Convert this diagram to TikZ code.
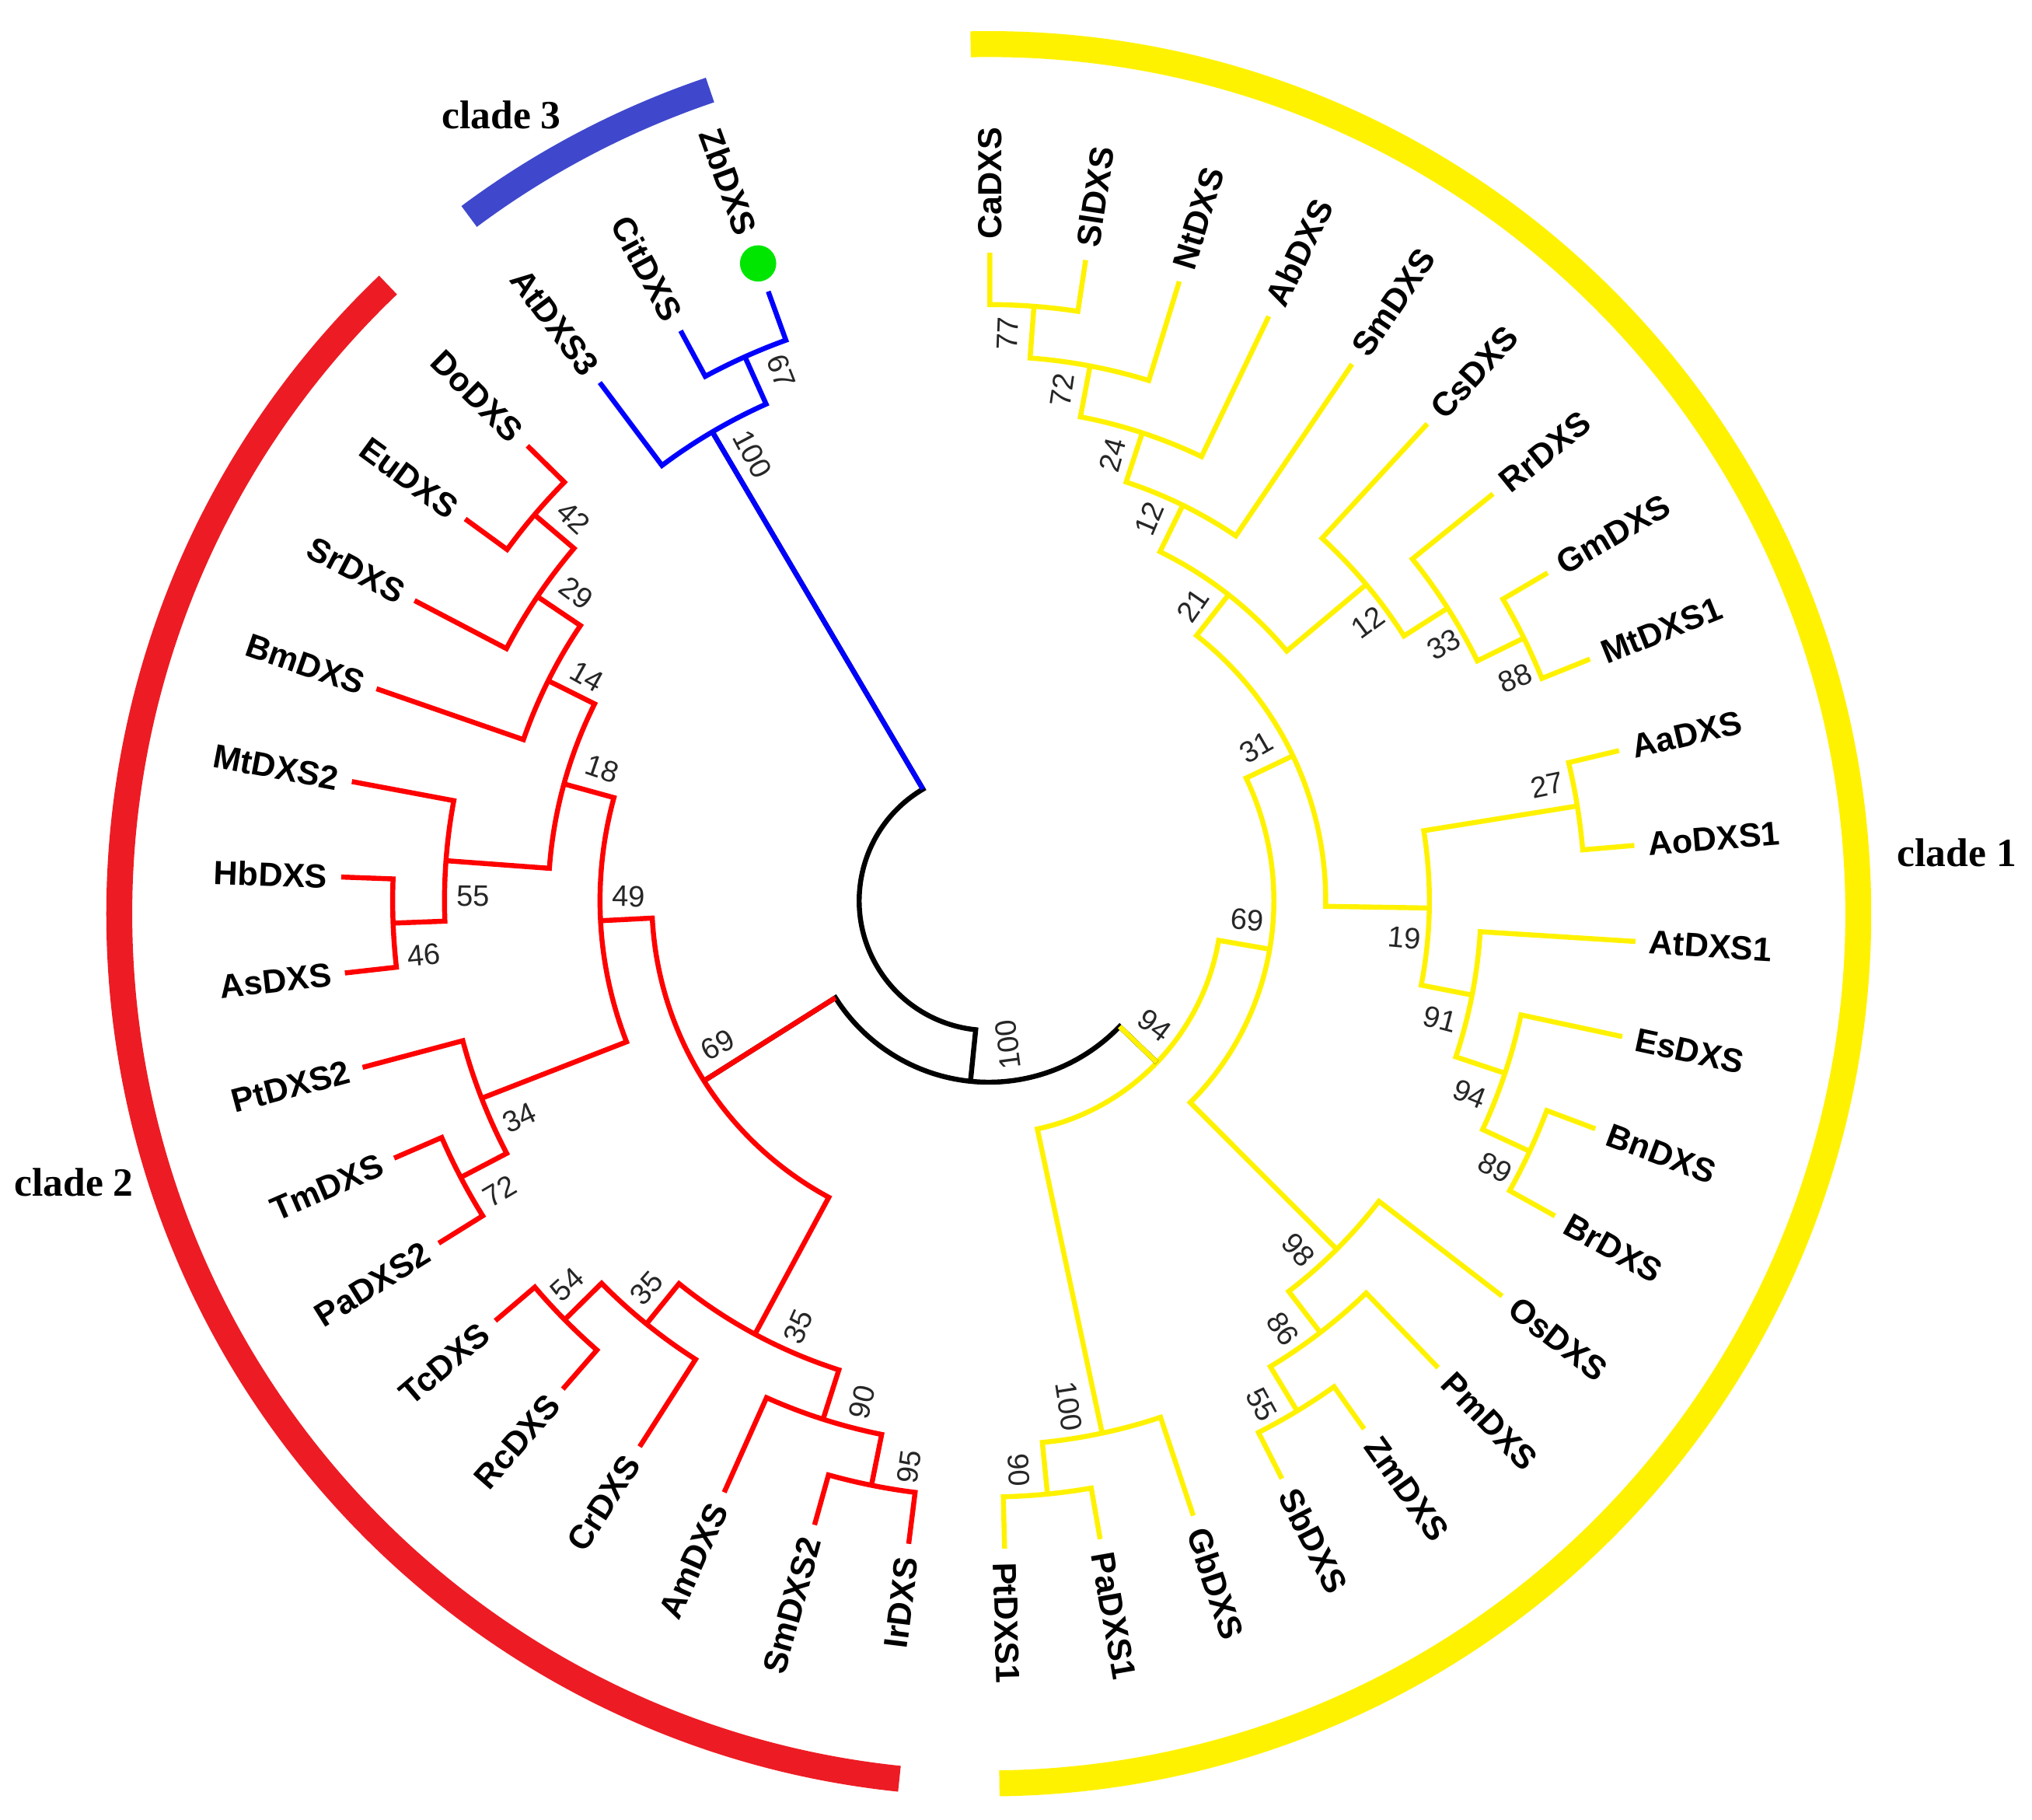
\documentclass[tikz,border=0pt]{standalone}
\usepackage{fontspec}
\newfontfamily\arialfam{Liberation Sans}
\newfontfamily\serifam{Liberation Serif}
\definecolor{cyel}{RGB}{255,242,0}
\definecolor{cred}{RGB}{255,0,0}
\definecolor{cblu}{RGB}{0,0,255}
\definecolor{redband}{RGB}{237,28,36}
\definecolor{bluband}{RGB}{63,72,204}
\definecolor{dotgreen}{RGB}{0,230,0}

\tikzset{
  br/.style={line width=1.1pt, line join=miter},
  tiplab/.style={font=\arialfam\bfseries\fontsize{7.35}{8}\selectfont, inner sep=0pt},
  bootlab/.style={font=\arialfam\fontsize{6.5}{7}\selectfont, inner sep=0pt, text=black!85},
  cladelab/.style={font=\serifam\bfseries\fontsize{8.8}{10}\selectfont, inner sep=0pt},
  band/.style={line width=2mm}
}

% join two children (by name) with an arc at radius #3
\newcommand\joinkids[5]{%
  \pgfmathsetmacro\angA{\csname ang#4\endcsname}%
  \pgfmathsetmacro\angB{\csname ang#5\endcsname}%
  \pgfmathsetmacro\angM{(\angA+\angB)/2}%
  \expandafter\xdef\csname ang#1\endcsname{\angM}%
  \draw[br,#2] (#4) -- (\angA:#3) arc[start angle=\angA, end angle=\angB, radius=#3] -- (#5);
  \coordinate (#1) at (\angM:#3);}
% stem of a child in its own colour
\newcommand\stemline[3]{%
  \pgfmathsetmacro\angA{\csname ang#2\endcsname}%
  \draw[br,#1] (#2) -- (\angA:#3);}

\begin{document}
\begin{tikzpicture}[x=0.1mm,y=0.1mm]
  \useasboundingbox (-763,-709) rectangle (805,695);
  % clade bands
  \draw[band,cyel] ([shift={(0,-10)}]91.2:671) arc[start angle=91.2, end angle=-89.3, radius=671];
  \draw[band,redband] ([shift={(0,-10)}]133.7:671) arc[start angle=133.7, end angle=264.1, radius=671];
  \draw[band,bluband] ([shift={(0,-10)}]108.7:671) arc[start angle=108.7, end angle=126.7, radius=671];
  \node[cladelab] (c1) at (747,37) {clade 1};
  \node[cladelab] (c2) at (-706,-217) {clade 2};
  \node[cladelab] (c3) at (-376,606) {clade 3};

  % tips
  \foreach \nm [count=\k from 0] in {ZbDXS,CitDXS,AtDXS3,DoDXS,EuDXS,SrDXS,BmDXS,MtDXS2,HbDXS,AsDXS,PtDXS2,TmDXS,PaDXS2,TcDXS,RcDXS,CrDXS,AmDXS,SmDXS2,IrDXS,PtDXS1,PaDXS1,GbDXS,SbDXS,ZmDXS,PmDXS,OsDXS,BrDXS,BnDXS,EsDXS,AtDXS1,AoDXS1,AaDXS,MtDXS1,GmDXS,RrDXS,CsDXS,SmDXS,AbDXS,NtDXS,SlDXS,CaDXS}{
    \pgfmathsetmacro\ang{109.9+8.5*\k}
    \expandafter\xdef\csname ang\nm\endcsname{\ang}
    \coordinate (\nm) at (\ang:500);
    \pgfmathtruncatemacro\lft{cos(\ang)<0 ? 1 : 0}
    \ifnum\k=0 \def\rr{547}\else\def\rr{510}\fi
    \ifnum\lft=1
      \node[tiplab, anchor=east, rotate=\ang-180] (lab\nm) at (\ang:\rr) {\nm};
    \else
      \node[tiplab, anchor=west, rotate=\ang] (lab\nm) at (\ang:\rr) {\nm};
    \fi
  }
  \node[circle, fill=dotgreen, minimum size=2.8mm, inner sep=0pt] (dot) at (109.9:523) {};

  % clade 3
  \joinkids{b67}{cblu}{460}{ZbDXS}{CitDXS}
  \joinkids{b100}{cblu}{420}{b67}{AtDXS3}
  % clade 2
  \joinkids{r42}{cred}{460}{DoDXS}{EuDXS}
  \joinkids{r29}{cred}{420}{r42}{SrDXS}
  \joinkids{r14}{cred}{380}{r29}{BmDXS}
  \joinkids{r46}{cred}{460}{HbDXS}{AsDXS}
  \joinkids{r55}{cred}{420}{MtDXS2}{r46}
  \joinkids{r18}{cred}{340}{r14}{r55}
  \joinkids{r72}{cred}{460}{TmDXS}{PaDXS2}
  \joinkids{r34}{cred}{420}{PtDXS2}{r72}
  \joinkids{r49}{cred}{300}{r18}{r34}
  \joinkids{r54}{cred}{460}{TcDXS}{RcDXS}
  \joinkids{r35b}{cred}{420}{r54}{CrDXS}
  \joinkids{r95}{cred}{460}{SmDXS2}{IrDXS}
  \joinkids{r90}{cred}{420}{AmDXS}{r95}
  \joinkids{r35a}{cred}{380}{r35b}{r90}
  \joinkids{r69}{cred}{260}{r49}{r35a}
  % clade 1
  \joinkids{y90}{cyel}{460}{PtDXS1}{PaDXS1}
  \joinkids{y100}{cyel}{420}{y90}{GbDXS}
  \joinkids{y55}{cyel}{460}{SbDXS}{ZmDXS}
  \joinkids{y86}{cyel}{420}{y55}{PmDXS}
  \joinkids{y98}{cyel}{380}{y86}{OsDXS}
  \joinkids{y89}{cyel}{460}{BrDXS}{BnDXS}
  \joinkids{y94b}{cyel}{420}{y89}{EsDXS}
  \joinkids{y91}{cyel}{380}{y94b}{AtDXS1}
  \joinkids{y27}{cyel}{460}{AoDXS1}{AaDXS}
  \joinkids{y19}{cyel}{340}{y91}{y27}
  \joinkids{y88}{cyel}{460}{MtDXS1}{GmDXS}
  \joinkids{y33}{cyel}{420}{y88}{RrDXS}
  \joinkids{y12b}{cyel}{380}{y33}{CsDXS}
  \joinkids{y77}{cyel}{460}{SlDXS}{CaDXS}
  \joinkids{y72}{cyel}{420}{NtDXS}{y77}
  \joinkids{y24}{cyel}{380}{AbDXS}{y72}
  \joinkids{y12a}{cyel}{340}{SmDXS}{y24}
  \joinkids{y21}{cyel}{300}{y12b}{y12a}
  \joinkids{y31}{cyel}{260}{y19}{y21}
  \joinkids{y69}{cyel}{220}{y98}{y31}
  \joinkids{y94}{cyel}{180}{y100}{y69}
  % root
  \joinkids{k100}{black}{140}{r69}{y94}
  \joinkids{root}{black}{100}{b100}{k100}
  \stemline{cred}{r69}{140}
  \stemline{cyel}{y94}{140}
  \stemline{cblu}{b100}{100}

  % bootstrap values
  \foreach \v/\a/\r [count=\i] in {67/111.4/439, 100/117.9/390,
      42/137.3/436, 29/143.3/397, 14/150.8/355, 18/161.2/315, 55/179.5/398, 46/185.5/438,
      49/179.3/278, 34/204.8/399, 72/210.7/439, 69/208.0/237, 54/222.3/440, 35/228.5/399,
      35/245.9/360, 90/255.8/399, 95/262.0/441,
      77/88.1/438, 72/81.8/398, 24/74.5/357, 12/67.2/320, 21/55.3/277, 31/29.8/238,
      69/-4.2/200, 94/-36.9/160, 12/36.3/363, 33/29.4/403, 88/22.9/441, 27/11.7/440,
      19/-5.1/322, 91/-14.7/360, 94/-21.9/400, 89/-27.8/442, 98/-48.4/360, 86/-55.5/401,
      55/-61.6/442, 100/-81.0/395, 90/-87.0/440}{
    \pgfmathtruncatemacro\lft{cos(\a)<0 ? 1 : 0}
    \ifnum\lft=1
      \node[bootlab, rotate=\a-180] (bs\i) at (\a:\r) {\v};
    \else
      \node[bootlab, rotate=\a] (bs\i) at (\a:\r) {\v};
    \fi
  }
  \node[bootlab, rotate=97.6] (bsroot) at (277.6:112) {100};
\end{tikzpicture}
\end{document}
